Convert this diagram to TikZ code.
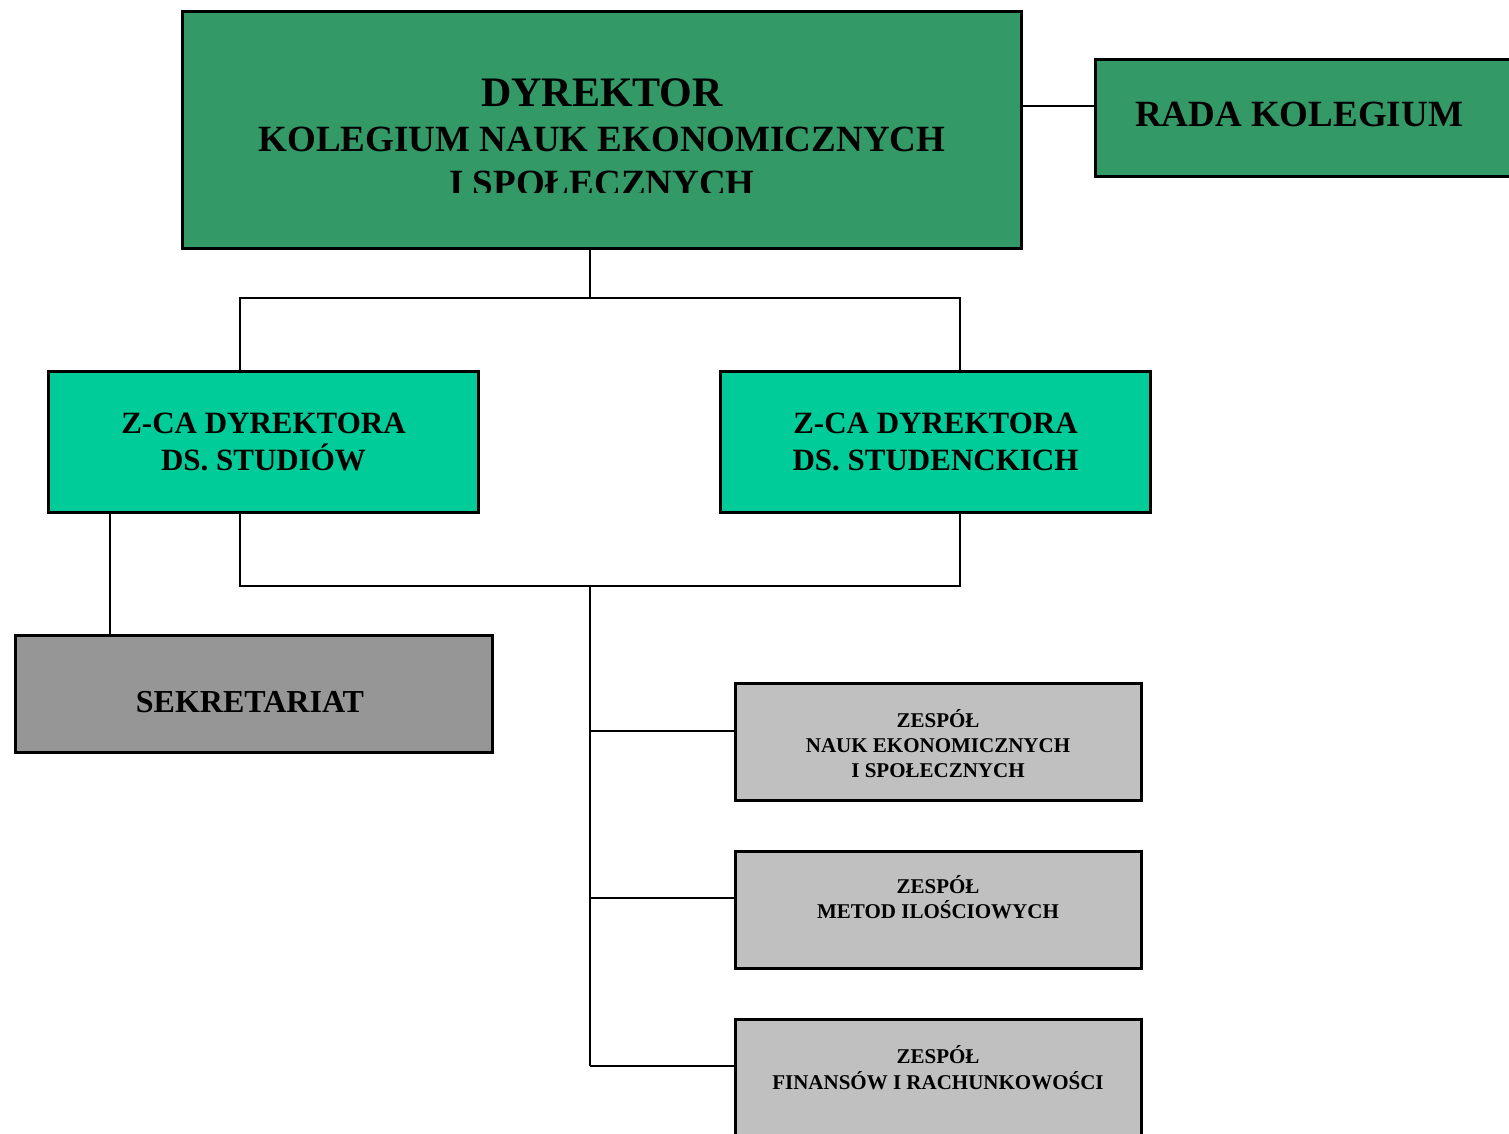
\documentclass[tikz,border=0pt]{standalone}
\usepackage{fontspec}
\setmainfont{Liberation Serif}
\definecolor{seagreen}{HTML}{339966}
\definecolor{deputygreen}{HTML}{00CC99}
\definecolor{officegray}{HTML}{969696}
\definecolor{teamgray}{HTML}{C0C0C0}
\begin{document}
\begin{tikzpicture}[x=1pt,y=-1pt,
  box/.style={draw=black, line width=3pt, rectangle, inner sep=0pt, anchor=north west},
  link/.style={draw=black, line width=1.8pt},
  lbl/.style={anchor=base, inner sep=0pt, font=\fontsize{#1}{#1}\selectfont\bfseries}]
\useasboundingbox (0,0) rectangle (1509,1134);
\clip (0,0) rectangle (1509,1134);

% boxes (placed by their outer top-left corner)
\node[box, fill=seagreen, minimum width=839pt, minimum height=237pt] (dir) at (181,10) {};
\node[box, fill=seagreen, minimum width=420pt, minimum height=117pt] (rada) at (1094,58) {};
\node[box, fill=deputygreen, minimum width=430pt, minimum height=141pt] (zsl) at (47,370) {};
\node[box, fill=deputygreen, minimum width=430pt, minimum height=141pt] (zsr) at (719,370) {};
\node[box, fill=officegray, minimum width=477pt, minimum height=117pt] (sek) at (14,634) {};
\node[box, fill=teamgray, minimum width=406pt, minimum height=117pt] (zes1) at (734,682) {};
\node[box, fill=teamgray, minimum width=406pt, minimum height=117pt] (zes2) at (734,850) {};
\node[box, fill=teamgray, minimum width=406pt, minimum height=117pt] (zes3) at (734,1018) {};

% labels
\begin{scope}
  \clip (184,13) rectangle (1020,192.5);
  \node[lbl=42] (dirA) at (602,107) {DYREKTOR};
  \node[lbl=37] (dirB) at (602,152) {KOLEGIUM NAUK EKONOMICZNYCH};
  \node[lbl=37] (dirC) at (602,196) {I SPOŁECZNYCH};
\end{scope}
\node[lbl=37] (radaA) at (1299,127) {RADA KOLEGIUM};
\node[lbl=31] (zslA) at (263.5,433) {Z-CA DYREKTORA};
\node[lbl=31] (zslB) at (263.5,470) {DS. STUDIÓW};
\node[lbl=31] (zsrA) at (935.5,433) {Z-CA DYREKTORA};
\node[lbl=31] (zsrB) at (935.5,470) {DS. STUDENCKICH};
\node[lbl=32] (sekA) at (250,712) {SEKRETARIAT};
\node[lbl=21] (zes1A) at (938,727) {ZESPÓŁ};
\node[lbl=21] (zes1B) at (938,752) {NAUK EKONOMICZNYCH};
\node[lbl=21] (zes1C) at (938,777) {I SPOŁECZNYCH};
\node[lbl=21] (zes2A) at (938,893) {ZESPÓŁ};
\node[lbl=21] (zes2B) at (938,918) {METOD ILOŚCIOWYCH};
\node[lbl=21] (zes3A) at (938,1063) {ZESPÓŁ};
\node[lbl=21] (zes3B) at (938,1089) {FINANSÓW I RACHUNKOWOŚCI};

% junction points of the connectors
\coordinate (radaTap) at (1060,106);
\coordinate (topMid) at (590,298);
\coordinate (busL) at (240,298);
\coordinate (busR) at (960,298);
\coordinate (lowL) at (240,586);
\coordinate (lowR) at (960,586);
\coordinate (lowMid) at (590,586);
\coordinate (secTap) at (110,560);
\coordinate (br1) at (590,731);
\coordinate (br2) at (590,898);
\coordinate (br3) at (590,1066);

% connectors
\draw[link] (dir.east |- radaTap) -- (rada.west |- radaTap);
\draw[link] (dir.south -| topMid) -- (topMid);
\draw[link] (zsl.north -| busL) -- (busL) -- (busR) -- (zsr.north -| busR);
\draw[link] (zsl.south -| lowL) -- (lowL) -- (lowR) -- (zsr.south -| lowR);
\draw[link] (zsl.south -| secTap) -- (sek.north -| secTap);
\draw[link] (lowMid) -- (br3);
\draw[link] (br1) -- (zes1.west |- br1);
\draw[link] (br2) -- (zes2.west |- br2);
\draw[link] (br3) -- (zes3.west |- br3);
\end{tikzpicture}
\end{document}
